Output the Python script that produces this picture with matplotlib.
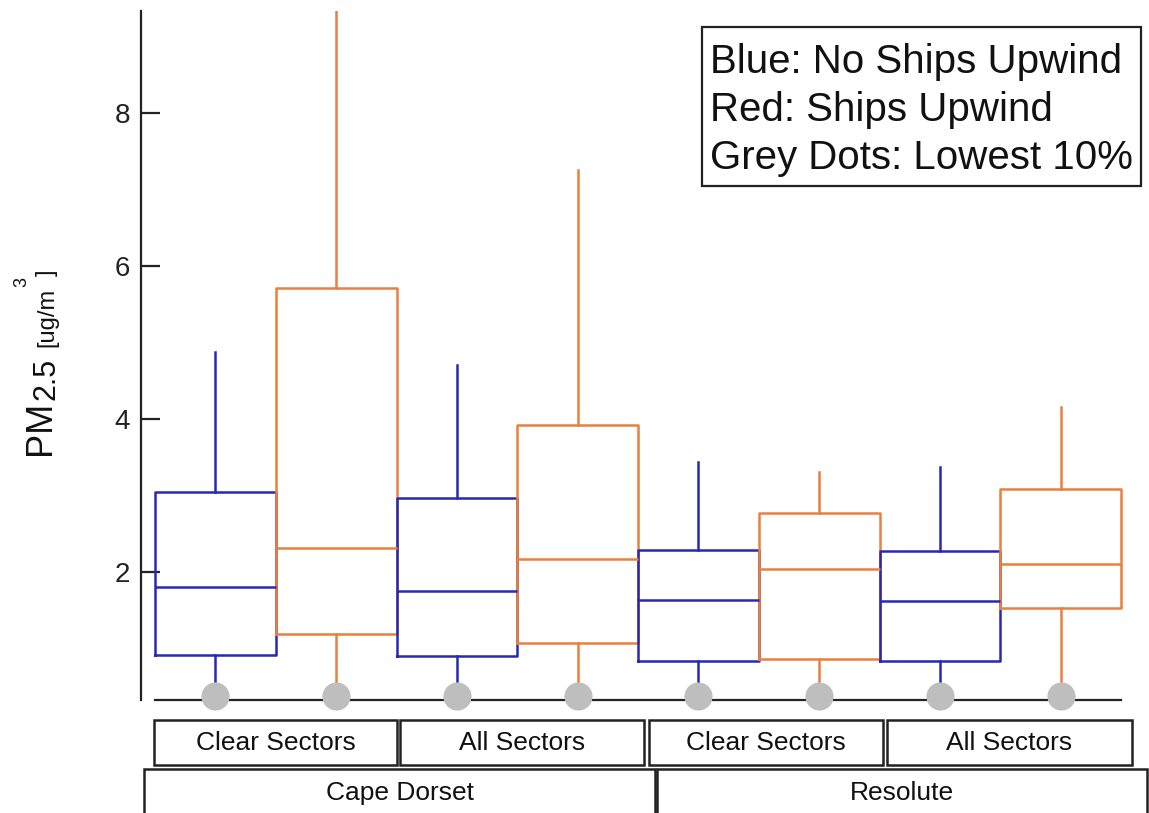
import matplotlib.pyplot as plt
from matplotlib.patches import Rectangle

plt.rcParams["font.family"] = ["Liberation Sans", "DejaVu Sans"]

# PM2.5 box statistics, ug/m3 (order: site / sector / ship condition)
positions = [0, 1, 2, 3, 4, 5, 6, 7]
upwind = ["none", "ships", "none", "ships", "none", "ships", "none", "ships"]
whisker_hi = [4.88, 9.60, 4.71, 7.25, 3.44, 3.31, 3.37, 4.16]
q3 = [3.05, 5.71, 2.97, 3.92, 2.29, 2.77, 2.27, 3.08]
median = [1.80, 2.31, 1.75, 2.17, 1.63, 2.04, 1.62, 2.10]
q1 = [0.92, 1.19, 0.90, 1.07, 0.84, 0.86, 0.84, 1.53]
lowest_10pct = [0.38, 0.38, 0.38, 0.38, 0.38, 0.38, 0.38, 0.38]

sector_labels = ["Clear Sectors", "All Sectors", "Clear Sectors", "All Sectors"]
site_labels = ["Cape Dorset", "Resolute"]
legend_lines = ["Blue: No Ships Upwind", "Red: Ships Upwind", "Grey Dots: Lowest 10%"]

colors = {"none": "#2828b4", "ships": "#e8803f"}
grey = "#bebebe"

W, H = 1149, 813
fig = plt.figure(figsize=(W / 100, H / 100), dpi=100)


def px(x, y):
    # pixel position (from top-left) -> figure fraction
    return x / W, 1 - y / H


ax_left, ax_right, ax_top, ax_bottom = 141, 1126, 11, 700
ax = fig.add_axes([ax_left / W, 1 - ax_bottom / H,
                   (ax_right - ax_left) / W, (ax_bottom - ax_top) / H])

stats = []
for i in range(len(positions)):
    stats.append(dict(med=median[i], q1=q1[i], q3=q3[i],
                      whislo=lowest_10pct[i], whishi=whisker_hi[i], fliers=[]))

for i, st in enumerate(stats):
    c = colors[upwind[i]]
    ax.bxp([st], positions=[positions[i]], widths=1.0, showcaps=False,
           showfliers=False, patch_artist=False,
           boxprops=dict(color=c, linewidth=1.8),
           medianprops=dict(color=c, linewidth=1.8),
           whiskerprops=dict(color=c, linewidth=1.8))

ax.set_ylim(0.327, 9.33)
ax.set_xlim(-0.616, 7.541)

# baseline under the boxes
ax.plot([-0.5, 7.5], [0.327, 0.327], color="#222222", lw=1.6,
        clip_on=False, zorder=3)
ax.scatter(positions, lowest_10pct, s=410, color=grey, zorder=4,
           clip_on=False, linewidths=0)

for side in ["top", "right", "bottom"]:
    ax.spines[side].set_visible(False)
ax.spines["left"].set_linewidth(1.6)
ax.spines["left"].set_color("#222222")
ax.set_xticks([])
ax.set_yticks([2, 4, 6, 8])
ax.tick_params(axis="y", direction="in", length=14, width=1.6,
               labelsize=20, pad=8, colors="#222222")


# category boxes below the axis
def label_box(x0, x1, y0, y1, text, ty):
    fx0, fy1 = px(x0, y1)
    fx1, fy0 = px(x1, y0)
    fig.add_artist(Rectangle((fx0, fy1), fx1 - fx0, fy0 - fy1,
                             transform=fig.transFigure, fill=False,
                             edgecolor="#222222", linewidth=1.8,
                             clip_on=False))
    tx, tyf = px((x0 + x1) / 2, ty)
    fig.text(tx, tyf, text, ha="center", va="center", fontsize=19,
             color="#111111")


row1 = [(154, 397), (400, 644), (649, 883), (887, 1132)]
for (x0, x1), lab in zip(row1, sector_labels):
    label_box(x0, x1, 720, 765, lab, 743)

row2 = [(144, 655), (657, 1147)]
for (x0, x1), lab in zip(row2, site_labels):
    label_box(x0, x1, 769, 818, lab, 793)

# note box
bx0, by0, bx1, by1 = 702, 27, 1141, 186
fx0, fy1 = px(bx0, by1)
fx1, fy0 = px(bx1, by0)
fig.add_artist(Rectangle((fx0, fy1), fx1 - fx0, fy0 - fy1,
                         transform=fig.transFigure, fill=False,
                         edgecolor="#222222", linewidth=1.6))
for line, base in zip(legend_lines, [73, 121, 169]):
    tx, tyf = px(710, base)
    fig.text(tx, tyf, line, ha="left", va="baseline", fontsize=29,
             color="#111111")

# y label built from pieces: PM, subscript 2.5, [ug/m^3]
ylab = [("PM", 50, 455, 26), ("2.5", 54, 400, 22), ("[ug/m", 53, 347, 17),
        ("3", 26, 287, 13), ("]", 53, 276, 17)]
for txt, x, y, size in ylab:
    tx, tyf = px(x, y)
    fig.text(tx, tyf, txt, rotation=90, rotation_mode="anchor",
             ha="left", va="baseline", fontsize=size, color="#111111")

fig.savefig("out.png", dpi=100)
